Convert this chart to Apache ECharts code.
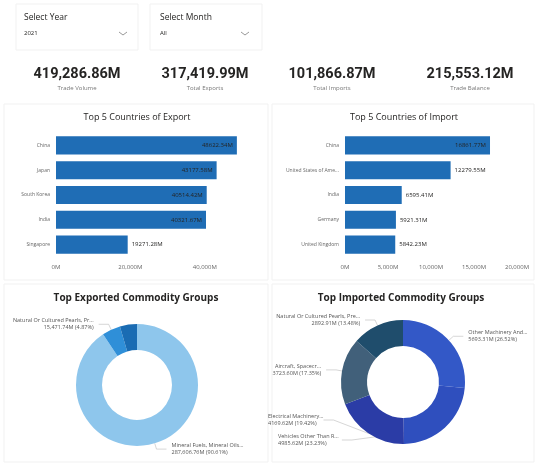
<!DOCTYPE html>
<html>
<head>
<meta charset="utf-8">
<script src="https://cdn.jsdelivr.net/npm/echarts@6/dist/echarts.min.js"></script>
<style>
  html, body { margin: 0; padding: 0; background: #fff; }
  #main { width: 538px; height: 466px; }
</style>
</head>
<body>
<div id="main"></div>
<script>
  // slicers + cards
  const slicerTitles = ['Select Year', 'Select Month'];
  const slicerValues = ['2021', 'All'];
  const cardValues = ['419,286.86M', '317,419.99M', '101,866.87M', '215,553.12M'];
  const cardLabels = ['Trade Volume', 'Total Exports', 'Total Imports', 'Trade Balance'];

  // top 5 countries
  const exportCountries = ['China', 'Japan', 'South Korea', 'India', 'Singapore'];
  const exportValues = [48622.34, 43177.58, 40514.42, 40321.67, 19271.28];
  const exportTicks = [0, 20000, 40000];

  const importCountries = ['China', 'United States of Ame...', 'India', 'Germany', 'United Kingdom'];
  const importValues = [16861.77, 12279.55, 6595.41, 5921.31, 5842.23];
  const importTicks = [0, 5000, 10000, 15000, 20000];

  // commodity groups
  const exportGroups = ['Mineral Fuels, Mineral Oils...', 'Natural Or Cultured Pearls, Pre...', 'Electrical Machinery...'];
  const exportGroupValues = [287606.76, 15471.74, 14341.49];
  const exportGroupColors = ['#8ec6ec', '#2f8fd8', '#1a6cb3'];

  const importGroups = ['Other Machinery And...', 'Vehicles Other Than Railway Or Tra...', 'Electrical Machinery...', 'Aircraft, Spacecr...', 'Natural Or Cultured Pearls, Pre...'];
  const importGroupValues = [5693.31, 4985.62, 4169.62, 3723.6, 2892.91];
  const importGroupColors = ['#3358c7', '#2f4fbe', '#2b3ca6', '#41607a', '#1f4d6c'];

  const font = '"Open Sans", "DejaVu Sans", sans-serif';
  const dark = '#252423';
  const barBlue = '#1f6db5';
  const importCenter = [403, 382];

  function txt(x, y, text, size, color, weight, family) {
    return {
      type: 'text', x: x, y: y, silent: true,
      style: {
        text: text, fill: color, align: 'center', verticalAlign: 'middle',
        textAlign: 'center', textVerticalAlign: 'middle',
        font: (weight || 'normal') + ' ' + size + 'px ' + (family || font)
      }
    };
  }
  function txtL(x, y, text, size, color) {
    return {
      type: 'text', x: x, y: y, silent: true,
      style: { text: text, fill: color, align: 'left', verticalAlign: 'middle', textAlign: 'left', textVerticalAlign: 'middle', font: size + 'px ' + font }
    };
  }
  function box(x, y, w, h) {
    return { type: 'rect', shape: { x: x, y: y, width: w, height: h }, silent: true, z: -10,
      style: { fill: '#fff', stroke: '#f1f1f1', lineWidth: 1 } };
  }

  const graphics = [];
  // faint panels
  graphics.push(box(16, 4, 122, 46), box(150, 4, 112, 46));
  graphics.push(box(4, 104, 264, 176), box(272, 104, 262, 176));
  graphics.push(box(4, 284, 264, 178), box(272, 284, 262, 178));

  // slicers
  const slicerX = [24, 160];
  const chevronX = [123, 245];
  slicerTitles.forEach((t, i) => {
    graphics.push(txtL(slicerX[i], 18, t, 8.5, dark));
    graphics.push(txtL(slicerX[i], 33, slicerValues[i], 6, dark));
    graphics.push({ type: 'polyline', silent: true,
      shape: { points: [[chevronX[i] - 4, 32], [chevronX[i], 35], [chevronX[i] + 4, 32]] },
      style: { stroke: '#999', lineWidth: 1, fill: null } });
  });

  // cards
  const cardX = [77, 205, 332, 470];
  cardValues.forEach((v, i) => {
    graphics.push(txt(cardX[i], 74, v, 14.5, dark, 'bold', 'Roboto, "DejaVu Sans", sans-serif'));
    graphics.push(txt(cardX[i], 88, cardLabels[i], 6, '#777'));
  });

  // section titles
  graphics.push(txt(137, 117, 'Top 5 Countries of Export', 9, dark));
  graphics.push(txt(404, 117, 'Top 5 Countries of Import', 9, dark));
  graphics.push(txt(136, 298, 'Top Exported Commodity Groups', 10, dark, 'bold'));
  graphics.push(txt(401, 298, 'Top Imported Commodity Groups', 10, dark, 'bold'));

  function tickFmt(v) { return v === 0 ? '0M' : v.toLocaleString('en-US') + 'M'; }

  function barData(values, cut) {
    return values.map(v => ({ value: v, label: { position: v > cut ? 'insideRight' : 'right' } }));
  }

  function xAx(gridIndex, ticks, max) {
    return {
      type: 'value', gridIndex: gridIndex, min: ticks[0], max: max,
      interval: ticks[1] - ticks[0],
      splitLine: { show: false }, axisLine: { show: false }, axisTick: { show: false },
      axisLabel: { formatter: tickFmt, fontSize: 6, color: '#666', fontFamily: font, margin: 7, showMaxLabel: max === ticks[ticks.length - 1] }
    };
  }
  function yAx(gridIndex, cats) {
    return {
      type: 'category', gridIndex: gridIndex, data: cats, inverse: true,
      axisLine: { show: false }, axisTick: { show: false },
      axisLabel: { fontSize: 5, color: '#666', fontFamily: font, margin: 6 }
    };
  }

  const barLabel = { show: true, fontSize: 6, color: dark, fontFamily: font, distance: 4,
    formatter: p => p.value.toFixed(2) + 'M' };

  const pieLabelLine = { length: 6, length2: 10, lineStyle: { color: '#bbb', width: 0.6 } };

  const option = {
    animation: false,
    backgroundColor: '#fff',
    graphic: graphics,
    grid: [
      { left: 56, top: 133, width: 186, height: 124 },
      { left: 345, top: 133, width: 172, height: 124 }
    ],
    xAxis: [xAx(0, exportTicks, 50000), xAx(1, importTicks, 20000)],
    yAxis: [yAx(0, exportCountries), yAx(1, importCountries)],
    series: [
      { type: 'bar', xAxisIndex: 0, yAxisIndex: 0, data: barData(exportValues, 30000),
        barCategoryGap: '27%', itemStyle: { color: barBlue }, label: barLabel },
      { type: 'bar', xAxisIndex: 1, yAxisIndex: 1, data: barData(importValues, 15000),
        barCategoryGap: '27%', itemStyle: { color: barBlue }, label: barLabel },
      {
        type: 'pie', center: [137, 385], radius: [35, 61], startAngle: 90, clockwise: true,
        data: exportGroups.map((n, i) => ({ name: n, value: exportGroupValues[i],
          itemStyle: { color: exportGroupColors[i] },
          label: { show: i < 2 }, labelLine: { show: i < 2 } })),
        label: { fontSize: 5.5, color: '#555', fontFamily: font, lineHeight: 7,
          formatter: p => p.name + '\n' + p.value.toLocaleString('en-US') + 'M (' + p.percent.toFixed(2) + '%)' },
        labelLine: pieLabelLine
      },
      {
        type: 'pie', center: importCenter, radius: [36, 62], startAngle: 90, clockwise: true,
        data: importGroups.map((n, i) => ({ name: n, value: importGroupValues[i],
          itemStyle: { color: importGroupColors[i] } })),
        label: { fontSize: 5.5, color: '#555', fontFamily: font, lineHeight: 7,
          formatter: p => p.name + '\n' + p.value.toFixed(2) + 'M (' + p.percent.toFixed(2) + '%)' },
        labelLine: pieLabelLine,
        // the two lower labels sit bottom-left of the ring in the original
        labelLayout: function (p) {
          if (p.dataIndex === 1) return { x: importCenter[0] - 125, y: importCenter[1] + 58, align: 'left' };
          if (p.dataIndex === 2) return { x: importCenter[0] - 135, y: importCenter[1] + 38, align: 'left' };
          return {};
        }
      }
    ]
  };

  echarts.init(document.getElementById('main')).setOption(option);
</script>
</body>
</html>
